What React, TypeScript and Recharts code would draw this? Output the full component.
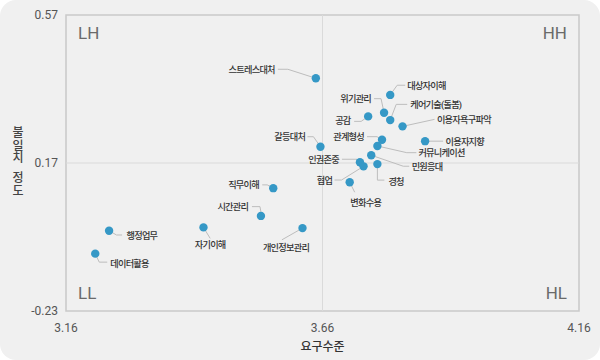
import React from "react";
import {
  ScatterChart,
  Scatter,
  XAxis,
  YAxis,
  ReferenceLine,
  ReferenceArea,
} from "recharts";

const NAMES = [
  "스트레스대처", "대상자이해", "위기관리", "케어기술(돌봄)", "공감", "이용자욕구파악",
  "이용자지향", "관계형성", "커뮤니케이션", "갈등대처", "민원응대", "인권존중",
  "협업", "경청", "변화수용", "직무이해", "시간관리", "개인정보관리",
  "자기이해", "행정업무", "데이터활용",
];
// 요구수준 (x)
const DEMAND = [
  3.647, 3.792, 3.78, 3.792, 3.749, 3.816,
  3.86, 3.776, 3.767, 3.656, 3.755, 3.733,
  3.74, 3.767, 3.713, 3.564, 3.54, 3.621,
  3.428, 3.244, 3.217,
];
// 불일치 정도 (y)
const GAP = [
  0.399, 0.354, 0.306, 0.286, 0.296, 0.269,
  0.229, 0.233, 0.216, 0.214, 0.191, 0.172,
  0.161, 0.167, 0.118, 0.102, 0.027, -0.006,
  -0.004, -0.013, -0.075,
];

const X_TICKS = [3.16, 3.66, 4.16];
const Y_TICKS = [-0.23, 0.17, 0.57];
const X_MID = 3.66;
const Y_MID = 0.17;

const data = NAMES.map((name, i) => ({ name, x: DEMAND[i], y: GAP[i] }));

type Anchor = "start" | "end" | "middle";
// label placement relative to each dot: text offset, anchor, leader polyline
const LAYOUT: Record<string, { t: [number, number]; a: Anchor; l: [number, number][] }> = {
  "스트레스대처": { t: [-41, -9], a: "end", l: [[-38, -9], [-28, -9], [0, 0]] },
  "대상자이해": { t: [17, -9.7], a: "start", l: [[0, 0], [7, -9.7], [15, -9.7]] },
  "위기관리": { t: [-13, -14], a: "end", l: [[-10, -14], [-3, -14], [0, 0]] },
  "케어기술(돌봄)": { t: [20, -15.7], a: "start", l: [[0, 0], [6, -15.7], [17, -15.7]] },
  "공감": { t: [-17.6, 4.6], a: "end", l: [[-14, 5], [-7, 5], [0, 0]] },
  "이용자욕구파악": { t: [34.4, -7], a: "start", l: [[0, 0], [32, -7]] },
  "이용자지향": { t: [20.4, 0], a: "start", l: [[0, 0], [18, 0]] },
  "관계형성": { t: [-18, -3], a: "end", l: [[-15, -3], [-5, -3], [0, 0]] },
  "커뮤니케이션": { t: [41, 6.7], a: "start", l: [[0, 0], [29.4, 6.7], [39, 6.7]] },
  "갈등대처": { t: [-15.3, -10], a: "end", l: [[-13, -10], [-7, -10], [0, 0]] },
  "민원응대": { t: [40.4, 11], a: "start", l: [[0, 0], [32, 11], [38, 11]] },
  "인권존중": { t: [-21, -2.5], a: "end", l: [[-18, -3], [-3, -3], [0, 0]] },
  "협업": { t: [-31.4, 13.7], a: "end", l: [[-29, 13.7], [-22, 13.7], [0, 0]] },
  "경청": { t: [11, 17.2], a: "start", l: [[0, 4], [0, 16], [7, 16]] },
  "변화수용": { t: [16, 20], a: "middle", l: [[0, 0], [5, 10]] },
  "직무이해": { t: [-14.3, -3.3], a: "end", l: [[-11, -3.3], [-6, -3.3], [0, 0]] },
  "시간관리": { t: [-12.7, -9.3], a: "end", l: [[-9, -9.3], [-1, -9.3], [0, -4]] },
  "개인정보관리": { t: [-16.5, 19], a: "middle", l: [[0, 0], [-20.6, 11.7]] },
  "자기이해": { t: [6.7, 17], a: "middle", l: [[0, 0], [6.7, 11]] },
  "행정업무": { t: [17.4, 4.3], a: "start", l: [[0, 0], [7.4, 4.3], [13, 4.3]] },
  "데이터활용": { t: [15, 9.6], a: "start", l: [[0, 0], [4, 8.5], [12, 8.5]] },
};

const FONT = "Roboto, 'Noto Sans CJK KR', sans-serif";
const DOT = "#3598c6";

function Dot(props: any) {
  const { cx, cy, payload } = props;
  const lay = LAYOUT[payload.name];
  if (cx == null || cy == null || !lay) return null;
  const pts = lay.l.map(([dx, dy]) => `${cx + dx},${cy + dy}`).join(" ");
  return (
    <g>
      <polyline points={pts} fill="none" stroke="#bdbdbd" strokeWidth={1} />
      <circle cx={cx} cy={cy} r={4.2} fill={DOT} />
      <text
        x={cx + lay.t[0]}
        y={cy + lay.t[1]}
        textAnchor={lay.a}
        dominantBaseline="central"
        fontSize={9.2}
        fontWeight={500}
        letterSpacing={-0.75}
        fill="#333"
        fontFamily={FONT}
      >
        {payload.name}
      </text>
    </g>
  );
}

const quadLabel = (value: string, position: string) => ({
  value,
  position,
  offset: 12,
  fontSize: 17,
  fill: "#6a6a6a",
  fontFamily: FONT,
});

function YLabel() {
  const chars: [string, number][] = [
    ["불", 133], ["일", 145.7], ["치", 158.2], ["정", 178.3], ["도", 191],
  ];
  return (
    <text
      textAnchor="middle"
      dominantBaseline="central"
      fontSize={12}
      fontWeight={500}
      fill="#444"
      fontFamily={FONT}
    >
      {chars.map(([c, y]) => (
        <tspan key={c} x={18} y={y}>
          {c}
        </tspan>
      ))}
    </text>
  );
}

export default function App() {
  return (
    <div style={{ position: "absolute", left: 0, top: 0, width: 600, height: 360, background: "#fff" }}>
      <div style={{ width: 600, height: 360, background: "#f0f0f0", borderRadius: 16, overflow: "hidden" }}>
        <ScatterChart width={600} height={360} margin={{ top: 15, right: 21, bottom: 0, left: 26 }}>
          <XAxis
            type="number"
            dataKey="x"
            domain={[3.16, 4.16]}
            ticks={X_TICKS}
            tickFormatter={(v: number) => v.toFixed(2)}
            axisLine={false}
            tickLine={false}
            tickMargin={6}
            height={49}
            tick={{ fontSize: 12, fill: "#555", fontFamily: FONT }}
            label={{
              value: "요구수준",
              position: "insideBottom",
              offset: 9,
              fontSize: 12,
              fontWeight: 500,
              fill: "#333",
              fontFamily: FONT,
            }}
          />
          <YAxis
            type="number"
            dataKey="y"
            domain={[-0.23, 0.57]}
            ticks={Y_TICKS}
            tickFormatter={(v: number) => v.toFixed(2)}
            axisLine={false}
            tickLine={false}
            width={40}
            tick={{ fontSize: 12, fill: "#555", fontFamily: FONT }}
            label={{ content: () => <YLabel /> }}
          />
          <ReferenceArea
            x1={3.16}
            x2={4.16}
            y1={-0.23}
            y2={0.57}
            fill="none"
            fillOpacity={0}
            stroke="#c9c9c9"
            strokeWidth={1.5}
          />
          <ReferenceLine x={X_MID} stroke="#dadada" strokeWidth={1} />
          <ReferenceLine y={Y_MID} stroke="#dadada" strokeWidth={1} />
          <ReferenceArea x1={3.16} x2={X_MID} y1={Y_MID} y2={0.57} fillOpacity={0} stroke="none"
            label={quadLabel("LH", "insideTopLeft")} />
          <ReferenceArea x1={X_MID} x2={4.16} y1={Y_MID} y2={0.57} fillOpacity={0} stroke="none"
            label={quadLabel("HH", "insideTopRight")} />
          <ReferenceArea x1={3.16} x2={X_MID} y1={-0.23} y2={Y_MID} fillOpacity={0} stroke="none"
            label={quadLabel("LL", "insideBottomLeft")} />
          <ReferenceArea x1={X_MID} x2={4.16} y1={-0.23} y2={Y_MID} fillOpacity={0} stroke="none"
            label={quadLabel("HL", "insideBottomRight")} />
          <Scatter data={data} shape={Dot} isAnimationActive={false} />
        </ScatterChart>
      </div>
    </div>
  );
}
